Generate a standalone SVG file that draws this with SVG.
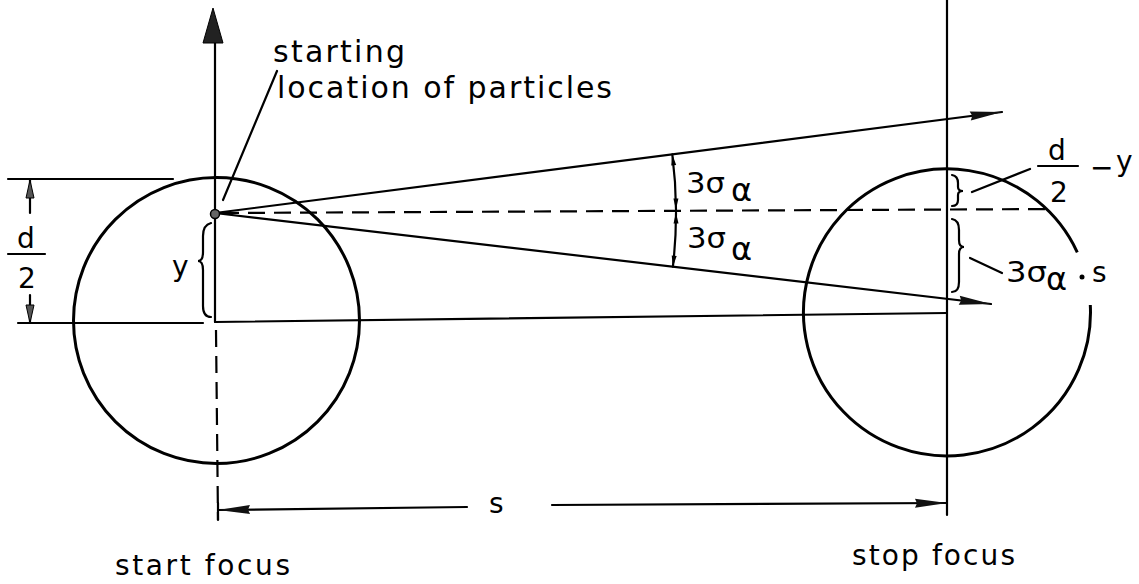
<svg xmlns="http://www.w3.org/2000/svg" width="1139" height="584" viewBox="0 0 1139 584">
<style>
.ln{stroke:#000;stroke-width:2.2;fill:none;stroke-linecap:round}
.thick{stroke:#000;stroke-width:3;fill:none}
.dash{stroke:#000;stroke-width:2.2;fill:none;stroke-dasharray:17 9}
.t{font-family:"DejaVu Sans","Liberation Sans",sans-serif;font-size:28px;fill:#000}
.tb{font-family:"DejaVu Sans","Liberation Sans",sans-serif;font-size:30px;fill:#000}
.ga{font-family:"DejaVu Sans","Liberation Sans",sans-serif;font-size:32px;fill:#000}
.head{fill:#222;stroke:#000;stroke-width:1}
</style>
<defs>
<marker id="ahL" viewBox="-34 -6 36 12" refX="0" refY="0" markerWidth="36" markerHeight="12" markerUnits="userSpaceOnUse" orient="auto-start-reverse">
<path d="M0,0 L-32,-4.5 L-30,0 L-32,4.5 Z" fill="#111"/>
</marker>
<marker id="ahS" viewBox="-12 -4 13 8" refX="0" refY="0" markerWidth="13" markerHeight="8" markerUnits="userSpaceOnUse" orient="auto-start-reverse">
<path d="M0,0 L-11,-2.5 L-11,2.5 Z" fill="#000"/>
</marker>
<marker id="ahD" viewBox="-20 -6 21 12" refX="0" refY="0" markerWidth="21" markerHeight="12" markerUnits="userSpaceOnUse" orient="auto-start-reverse">
<path d="M0,0 L-18,-4 L-18,4 Z" fill="#555" stroke="#000" stroke-width="1"/>
</marker>
</defs>
<rect width="1139" height="584" fill="#fff"/>

<g id="left-focus">
<circle class="thick" cx="216.5" cy="320.5" r="143"/>
<line class="ln" x1="215" y1="43" x2="215" y2="322"/>
<polygon class="head" points="213,8 203,43 223,43" fill="#444"/>
<line class="dash" x1="216" y1="330" x2="218" y2="520"/>
<line class="ln" x1="18" y1="323" x2="203" y2="323"/>
<line class="ln" x1="8" y1="179" x2="173" y2="179"/>
</g>

<g id="right-focus">
<path class="thick" d="M1090.3,305 A143.5,143.5 0 1 1 1077.3,252.3"/>
<line class="ln" x1="947" y1="0" x2="947" y2="515"/>
</g>

<g id="connectors">
<line class="ln" x1="215" y1="322" x2="947" y2="313"/>
<line class="dash" x1="222" y1="213" x2="1053" y2="209"/>
<line class="ln" x1="215" y1="213" x2="1002" y2="112" marker-end="url(#ahL)"/>
<line class="ln" x1="215" y1="213" x2="991" y2="304" marker-end="url(#ahL)"/>
<path class="ln" d="M672.3,154.3 A461,461 0 0 1 676,209.5" marker-start="url(#ahS)" marker-end="url(#ahS)"/>
<path class="ln" d="M676,212.5 A461,461 0 0 1 672.9,266.7" marker-start="url(#ahS)" marker-end="url(#ahS)"/>
<line class="ln" x1="30" y1="213" x2="30" y2="180" marker-end="url(#ahD)"/>
<line class="ln" x1="30" y1="295" x2="30" y2="323" marker-end="url(#ahD)"/>
<line class="ln" x1="467" y1="507" x2="218" y2="510" marker-end="url(#ahL)"/>
<line class="ln" x1="552" y1="505" x2="947" y2="503" marker-end="url(#ahL)"/>
<line class="ln" x1="218" y1="503" x2="218" y2="520"/>
<line class="ln" x1="223" y1="200" x2="277" y2="71"/>
<line class="ln" x1="972" y1="192" x2="1030" y2="169"/>
<line class="ln" x1="970" y1="258" x2="1002" y2="273"/>
</g>

<g id="start-point">
<circle cx="215" cy="214" r="4.5" fill="#666" stroke="#000" stroke-width="1.5"/>
</g>

<g id="braces">
<path class="ln" stroke-width="1.6" d="M211,223 Q203,225 203,236 L203,252 Q203,261 198,261 Q203,261 203,270 L203,306 Q203,317 211,317"/>
<path class="ln" stroke-width="1.6" d="M952,175 Q958,176 958,183 L958,187 Q958,191 963,191 Q958,191 958,195 L958,200 Q958,206 952,206"/>
<path class="ln" stroke-width="1.6" d="M952,219 Q959,220 959,230 L959,240 Q959,247 964,247 Q959,247 959,254 L959,282 Q959,292 952,292"/>
</g>

<g id="labels">
<text class="tb" x="273" y="62" textLength="132" lengthAdjust="spacing">starting</text>
<text class="tb" x="277" y="98" textLength="335" lengthAdjust="spacing">location of particles</text>
<text class="t" x="17" y="248">d</text>
<line class="ln" x1="8" y1="254" x2="45" y2="254"/>
<text class="t" x="18" y="288">2</text>
<text class="t" x="172" y="276">y</text>
<text class="t" x="686" y="193" textLength="39" lengthAdjust="spacingAndGlyphs">3σ</text>
<text class="ga" x="731" y="201">α</text>
<text class="t" x="687" y="248" textLength="39" lengthAdjust="spacingAndGlyphs">3σ</text>
<text class="ga" x="731" y="260">α</text>
<text class="t" x="1048" y="160">d</text>
<line class="ln" x1="1038" y1="166" x2="1078" y2="166"/>
<text class="t" x="1050" y="202">2</text>
<text class="t" x="1090" y="177">−</text>
<text class="t" x="1116" y="171">y</text>
<text class="t" x="1006" y="282" textLength="41" lengthAdjust="spacingAndGlyphs">3σ</text>
<text class="ga" x="1046" y="290">α</text>
<circle cx="1082" cy="277" r="2.5" fill="#000"/>
<text class="t" x="1092" y="282">s</text>
<text class="t" x="489" y="513">s</text>
<text class="t" x="115" y="575" textLength="175" lengthAdjust="spacing">start focus</text>
<text class="t" x="852" y="565" textLength="163" lengthAdjust="spacing">stop focus</text>
</g>
</svg>
